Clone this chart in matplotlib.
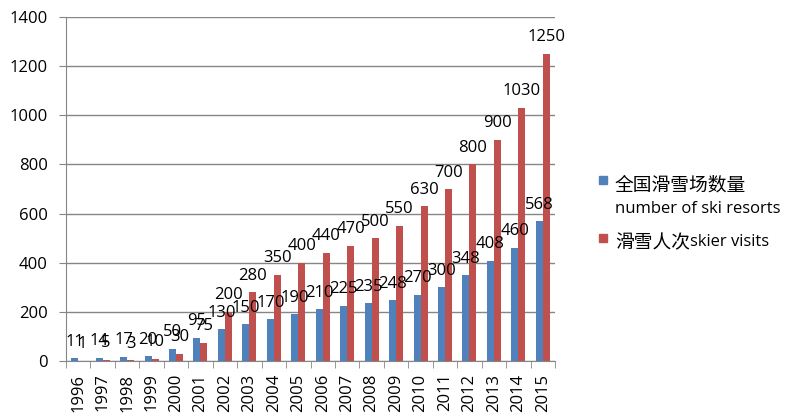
import matplotlib
matplotlib.use("Agg")
import matplotlib.pyplot as plt
from matplotlib.patches import Rectangle
import numpy as np
import re

plt.rcParams['font.family'] = ['Open Sans', 'Noto Sans CJK SC', 'DejaVu Sans']

years = ["1996", "1997", "1998", "1999", "2000", "2001", "2002", "2003", "2004", "2005",
         "2006", "2007", "2008", "2009", "2010", "2011", "2012", "2013", "2014", "2015"]
resorts = [11, 14, 17, 20, 50, 95, 130, 150, 170, 190, 210, 225, 235, 248, 270, 300, 348, 408, 460, 568]
visits = [1, 5, 3, 10, 30, 75, 200, 280, 350, 400, 440, 470, 500, 550, 630, 700, 800, 900, 1030, 1250]
legend_lines = [["全国滑雪场数量", "number of ski resorts"], ["滑雪人次skier visits"]]
colors = ["#4F81BD", "#C0504D"]

W, H = 800, 420
fig = plt.figure(figsize=(8, 4.2), dpi=100)
ax = fig.add_axes([66 / W, 1 - 361 / H, (555 - 66) / W, (361 - 17) / H])

x = np.arange(len(years))
w = 0.286
b1 = ax.bar(x - w / 2, resorts, w, color=colors[0], zorder=3)
b2 = ax.bar(x + w / 2, visits, w, color=colors[1], zorder=3)

for bars, vals in ((b1, resorts), (b2, visits)):
    for r, v in zip(bars, vals):
        ax.annotate(str(v), (r.get_x() + r.get_width() / 2, v), xytext=(0, 9),
                    textcoords='offset points', ha='center', va='baseline',
                    fontsize=12, color='#000000', zorder=4)

ax.set_ylim(0, 1400)
ax.set_yticks(range(0, 1401, 200))
ax.set_xlim(-0.5, len(years) - 0.5)
ax.set_xticks(x)
ax.set_xticklabels(years, rotation=90, fontsize=12)
ax.tick_params(axis='y', labelsize=12, length=5, color='#868686', pad=8)
ax.tick_params(axis='x', length=0, pad=9)
ax.set_xticks(np.arange(-0.5, len(years), 1), minor=True)
ax.tick_params(axis='x', which='minor', length=5, color='#868686')
ax.grid(axis='y', color='#868686', linewidth=1, zorder=0)
for s in ('top', 'right'):
    ax.spines[s].set_visible(False)
ax.spines['left'].set_color('#868686')
ax.spines['bottom'].set_color('#868686')

# legend (manual, Excel-style: marker aligned with first line; CJK runs slightly larger)
fig.canvas.draw()
renderer = fig.canvas.get_renderer()
cjk = re.compile(r'([\u3000-\u9fff]+)')


def draw_line(text, x0, yc):
    xpos = x0
    for run in [s for s in cjk.split(text) if s]:
        is_cjk = bool(cjk.fullmatch(run))
        t = fig.text(xpos / W, 1 - yc / H, run, fontsize=13.5 if is_cjk else 12,
                     va='center_baseline', ha='left',
                     family=['Noto Sans CJK SC', 'DejaVu Sans'] if is_cjk else ['Open Sans', 'DejaVu Sans'])
        bb = t.get_window_extent(renderer)
        xpos += bb.width


entry_y = [182, 240]
for lines, c, y0 in zip(legend_lines, colors, entry_y):
    fig.patches.append(Rectangle((599 / W, 1 - (y0 + 2) / H), 8 / W, 8 / H,
                                 transform=fig.transFigure, color=c))
    for i, t in enumerate(lines):
        draw_line(t, 615, y0 + 25 * i)

fig.savefig("out.png", dpi=100)
